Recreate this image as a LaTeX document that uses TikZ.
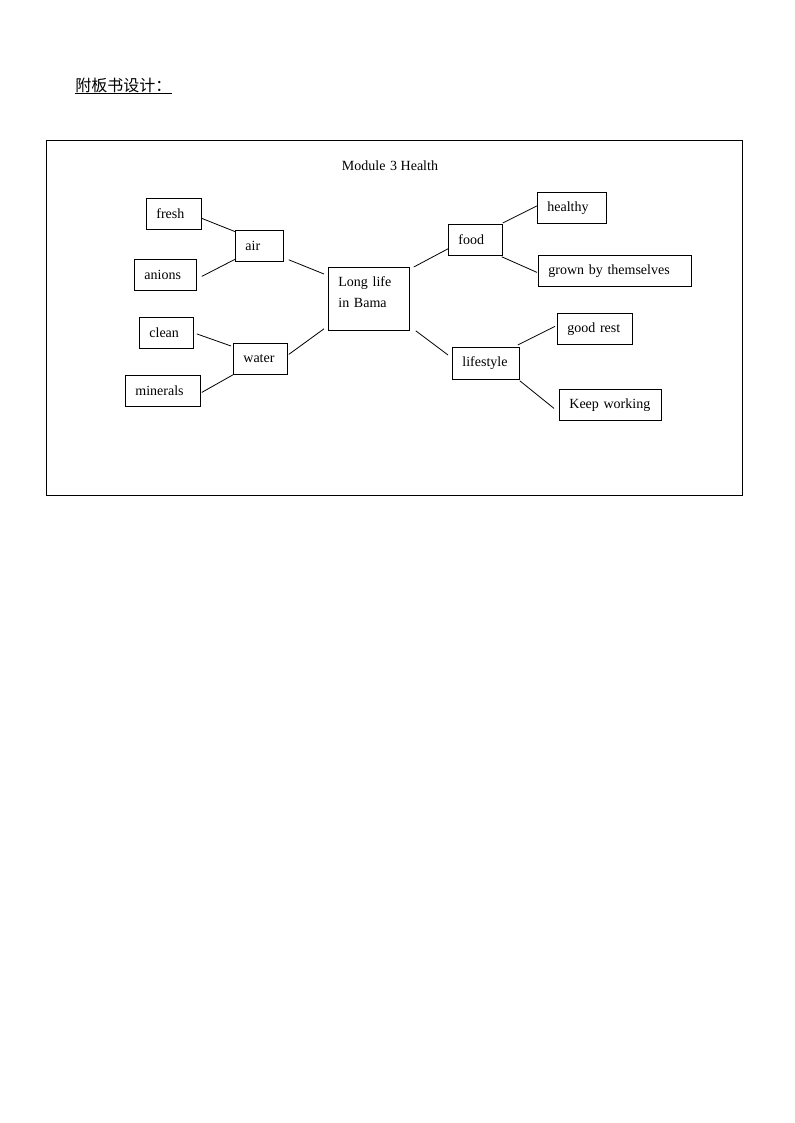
\documentclass[tikz,border=0pt]{standalone}
\usepackage{fontspec}
\setmainfont{Liberation Serif}
\newfontfamily\cjk{Noto Sans CJK SC}
\usetikzlibrary{calc}
\begin{document}
\begin{tikzpicture}[x=0.75pt,y=-0.75pt,
  bx/.style={draw, line width=0.6pt, anchor=north west, inner xsep=7.5pt, inner ysep=0pt,
    minimum height=23.25pt, align=left, font=\fontsize{10.5pt}{15.75pt}\selectfont},
  lk/.style={line width=0.6pt}]
\useasboundingbox (0,0) rectangle (794,1123);
% header
\node[anchor=west, inner sep=0pt, font=\cjk\fontsize{12pt}{14pt}\selectfont] (hdr) at (75,85) {附板书设计：};
\coordinate (ulA) at (75,93);
\coordinate (ulB) at (172,93);
\draw[line width=0.6pt] (ulA) -- (ulB);
% frame
\draw[line width=0.75pt] (46.5,140.5) rectangle (742.5,495);
\node[font=\fontsize{10.5pt}{12pt}\selectfont] (title) at (390,166) {Module\,\,3 Health};
% left
\node[bx, text width=26.25pt] (fresh) at (146,198) {fresh};
\node[bx, text width=21pt] (air) at (235,230) {air};
\node[bx, text width=31.5pt] (anions) at (134,259) {anions};
\node[bx, text width=25.5pt] (clean) at (139,317) {clean};
\node[bx, text width=25.5pt] (water) at (233,343) {water};
\node[bx, text width=41.25pt] (minerals) at (125,375) {minerals};
% centre
\node[bx, text width=45.75pt, minimum height=47.25pt] (centre) at (328,267) {Long life\\[0pt]in Bama\\[-6pt]\mbox{}};
% right
\node[bx, text width=25.5pt] (food) at (448,224) {food};
\node[bx, text width=36.75pt] (healthy) at (537,192) {healthy};
\node[bx, text width=99.75pt] (grown) at (538,255) {grown by themselves};
\node[bx, text width=35.25pt, minimum height=24pt] (lifestyle) at (452,347) {lifestyle};
\node[bx, text width=41.25pt] (goodrest) at (557,313) {good rest};
\node[bx, text width=61.5pt] (keep) at (559,389) {\mbox{Keep working}};
% connectors left
\draw[lk] ($(fresh.east)+(0,4.5)$) -- ($(air.north west)+(1,2)$);
\draw[lk] ($(anions.east)+(5,1.5)$) -- ($(air.south west)+(1,-3)$);
\draw[lk] ($(air.south east)+(5,-2)$) -- ($(centre.north west)+(-4,7)$);
\draw[lk] ($(clean.east)+(3,1)$) -- ($(water.north west)+(-2,3)$);
\draw[lk] ($(minerals.east)+(1,1.5)$) -- (water.south west);
\draw[lk] ($(water.east)+(1,-4.5)$) -- ($(centre.south west)+(-4,-2)$);
% connectors right
\draw[lk] ($(centre.north east)+(4,0)$) -- ($(food.south west)+(0,-7)$);
\draw[lk] ($(food.north east)+(0,-1)$) -- ($(healthy.west)+(0,-2)$);
\draw[lk] ($(food.south east)+(-1,1)$) -- ($(grown.west)+(-1,1.5)$);
\draw[lk] ($(centre.south east)+(6,0)$) -- ($(lifestyle.north west)+(-4,8)$);
\draw[lk] ($(lifestyle.north east)+(-2,-2)$) -- ($(goodrest.west)+(-2,-2.5)$);
\draw[lk] ($(lifestyle.south east)+(0,1)$) -- ($(keep.west)+(-5,3.5)$);
\end{tikzpicture}
\end{document}
